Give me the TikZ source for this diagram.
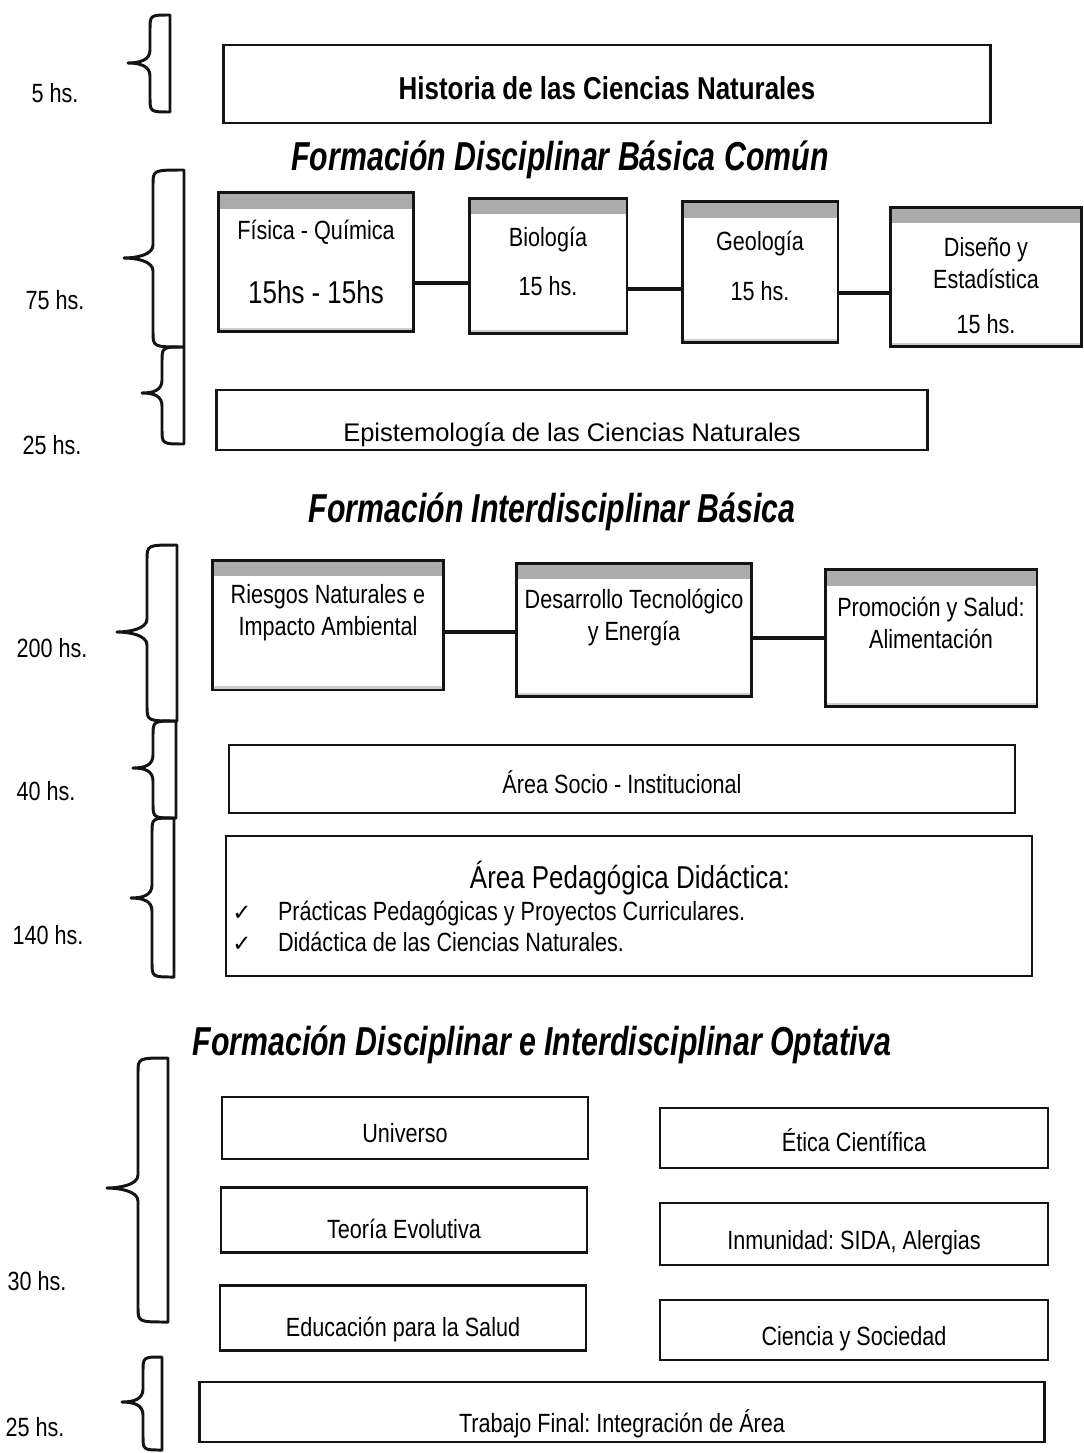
\documentclass[tikz,border=0pt]{standalone}
\usepackage{fontspec}
\setmainfont{Liberation Sans}
\newfontfamily\condensed{Liberation Sans}[FakeStretch=0.82]
\newfontfamily\headfont{Liberation Sans}[FakeStretch=0.75]
\newfontfamily\checkfont{DejaVu Sans}
\usetikzlibrary{positioning,calc}
\definecolor{ink}{RGB}{20,20,20}
\definecolor{barfill}{RGB}{172,172,172}
\frenchspacing

% tip x, stem x, right x, top y, tip y, bottom y (picture units)
\newcommand{\curlybrace}[6]{%
  \draw[curly] (#3,#4) .. controls (#2,#4) .. (#2,#4+15)
    -- (#2,#5-13) .. controls (#2,#5-3) and (#1+12,#5) .. (#1,#5)
    .. controls (#1+12,#5) and (#2,#5+3) .. (#2,#5+13)
    -- (#2,#6-15) .. controls (#2,#6) .. (#3,#6) -- cycle;}

\begin{document}
\begin{tikzpicture}[x=0.02cm, y=-0.02cm,
        panel/.style={draw=ink, line width=1.7pt, fill=white, align=center, inner sep=2pt,
            font=\condensed\fontsize{15}{18}\selectfont,
            path picture={
                \fill[barfill] (path picture bounding box.north west) rectangle ([yshift=-0.32cm]path picture bounding box.north east);
                \fill[barfill!60] (path picture bounding box.south west) rectangle ([yshift=0.07cm]path picture bounding box.south east);}},
        plainbox/.style={draw=ink, line width=1.6pt, align=center, inner sep=2pt, font=\condensed\fontsize{15}{18}\selectfont},
        textdrop/.style={text height=#1, text depth=0pt},
        heading/.style={font=\headfont\bfseries\itshape\fontsize{23}{27}\selectfont},
        hours/.style={font=\condensed\fontsize{15}{18}\selectfont},
        link/.style={draw=ink, line width=2.3pt},
        curly/.style={draw=ink, line width=1.7pt, line join=round}
    ]
        \useasboundingbox (0,0) rectangle (1084,1453);

        % historia
        \node[plainbox, textdrop=17.5pt, minimum width=15.34cm, minimum height=1.56cm, font=\condensed\bfseries\fontsize{18}{21}\selectfont] (historia) at (607,84) {Historia de las Ciencias Naturales};
        \node[hours] (h5) at (55,93) {5 hs.};
        \curlybrace{128}{150}{170}{15}{63}{112}

        % formacion disciplinar basica comun
        \node[heading] (t-comun) at (560,160) {Formación Disciplinar Básica Común};

        \node[panel, minimum width=3.92cm, minimum height=2.78cm] (fq) at (316,262) {Física - Química\\[18.5pt]{\fontsize{18}{22}\selectfont 15hs - 15hs}};
        \node[panel, text depth=5pt, minimum width=3.16cm, minimum height=2.72cm] (bio) at (548,266) {Biología\\[10pt]15 hs.};
        \node[panel, text depth=7pt, minimum width=3.12cm, minimum height=2.82cm] (geo) at (760,272) {Geología\\[10pt]15 hs.};
        \node[panel, text height=65pt, minimum width=3.82cm, minimum height=2.80cm] (dis) at (986,277) {Diseño y\\Estadística\\[8pt]15 hs.};

        \draw[link] (fq.east |- 0,283) -- (bio.west |- 0,283);
        \draw[link] (bio.east |- 0,289) -- (geo.west |- 0,289);
        \draw[link] (geo.east |- 0,293) -- (dis.west |- 0,293);

        \node[hours] (h75) at (55,300) {75 hs.};
        \curlybrace{124}{153}{184}{170}{258}{347}

        \node[plainbox, textdrop=24pt, minimum width=14.22cm, minimum height=1.2cm, font=\fontsize{14.5}{17}\selectfont] (episteme) at (572,420) {Epistemología de las Ciencias Naturales};
        \node[hours] (h25a) at (52,445) {25 hs.};
        \curlybrace{142}{162}{184}{347}{393}{444}

        % formacion interdisciplinar basica
        \node[heading] (t-inter) at (552,512) {Formación Interdisciplinar Básica};

        \node[panel, text depth=17pt, minimum width=4.64cm, minimum height=2.6cm] (riesgos) at (328,625) {Riesgos Naturales e\\Impacto Ambiental};
        \node[panel, text depth=17pt, minimum width=4.7cm, minimum height=2.68cm] (desarrollo) at (634,630) {Desarrollo Tecnológico\\y Energía};
        \node[panel, text depth=17pt, minimum width=4.24cm, minimum height=2.74cm] (promocion) at (931,638) {Promoción y Salud:\\Alimentación};

        \draw[link] (riesgos.east |- 0,632) -- (desarrollo.west |- 0,632);
        \draw[link] (desarrollo.east |- 0,638) -- (promocion.west |- 0,638);

        \node[hours] (h200) at (52,648) {200 hs.};
        \curlybrace{117}{147}{177}{545}{632}{721}

        \node[plainbox, textdrop=16.5pt, minimum width=15.72cm, minimum height=1.36cm] (socio) at (622,779) {Área Socio - Institucional};
        \node[hours] (h40) at (46,791) {40 hs.};
        \curlybrace{133}{153}{176}{721}{768}{818}

        \node[plainbox, minimum width=16.12cm, minimum height=2.8cm] (pedag) at (629,906) {};
        \node[font=\condensed\fontsize{18}{22}\selectfont] (pedag-title) at (630,878) {Área Pedagógica Didáctica:};
        \node[anchor=west, align=left, inner sep=0pt, font=\condensed\fontsize{15}{17.6}\selectfont] (pedag-items) at (232,926)
            {\makebox[26pt][l]{\checkfont\fontsize{13}{15}\selectfont ✓}Prácticas Pedagógicas y Proyectos Curriculares.\\
             \makebox[26pt][l]{\checkfont\fontsize{13}{15}\selectfont ✓}Didáctica de las Ciencias Naturales.};
        \node[hours] (h140) at (48,935) {140 hs.};
        \curlybrace{131}{152}{174}{818}{898}{977}

        % formacion optativa
        \node[heading] (t-optativa) at (542,1045) {Formación Disciplinar e Interdisciplinar Optativa};

        \node[plainbox, textdrop=16.5pt, minimum width=7.32cm, minimum height=1.24cm] (universo) at (405,1128) {Universo};
        \node[plainbox, textdrop=21pt, minimum width=7.32cm, minimum height=1.3cm] (teoria) at (404,1220) {Teoría Evolutiva};
        \node[plainbox, textdrop=21pt, minimum width=7.32cm, minimum height=1.3cm] (educacion) at (403,1318) {Educación para la Salud};
        \node[plainbox, textdrop=15.5pt, minimum width=7.76cm, minimum height=1.2cm] (etica) at (854,1138) {Ética Científica};
        \node[plainbox, textdrop=17.5pt, minimum width=7.76cm, minimum height=1.24cm] (inmunidad) at (854,1234) {Inmunidad: SIDA, Alergias};
        \node[plainbox, textdrop=17.5pt, minimum width=7.76cm, minimum height=1.2cm] (ciencia) at (854,1330) {Ciencia y Sociedad};

        \node[hours] (h30) at (37,1281) {30 hs.};
        \curlybrace{107}{138}{168}{1058}{1188}{1322}

        \node[plainbox, textdrop=23.5pt, minimum width=16.9cm, minimum height=1.2cm] (trabajo) at (622,1412) {Trabajo Final: Integración de Área};
        \node[hours] (h25b) at (35,1427) {25 hs.};
        \curlybrace{122}{143}{162}{1357}{1402}{1450}
    \end{tikzpicture}
\end{document}
